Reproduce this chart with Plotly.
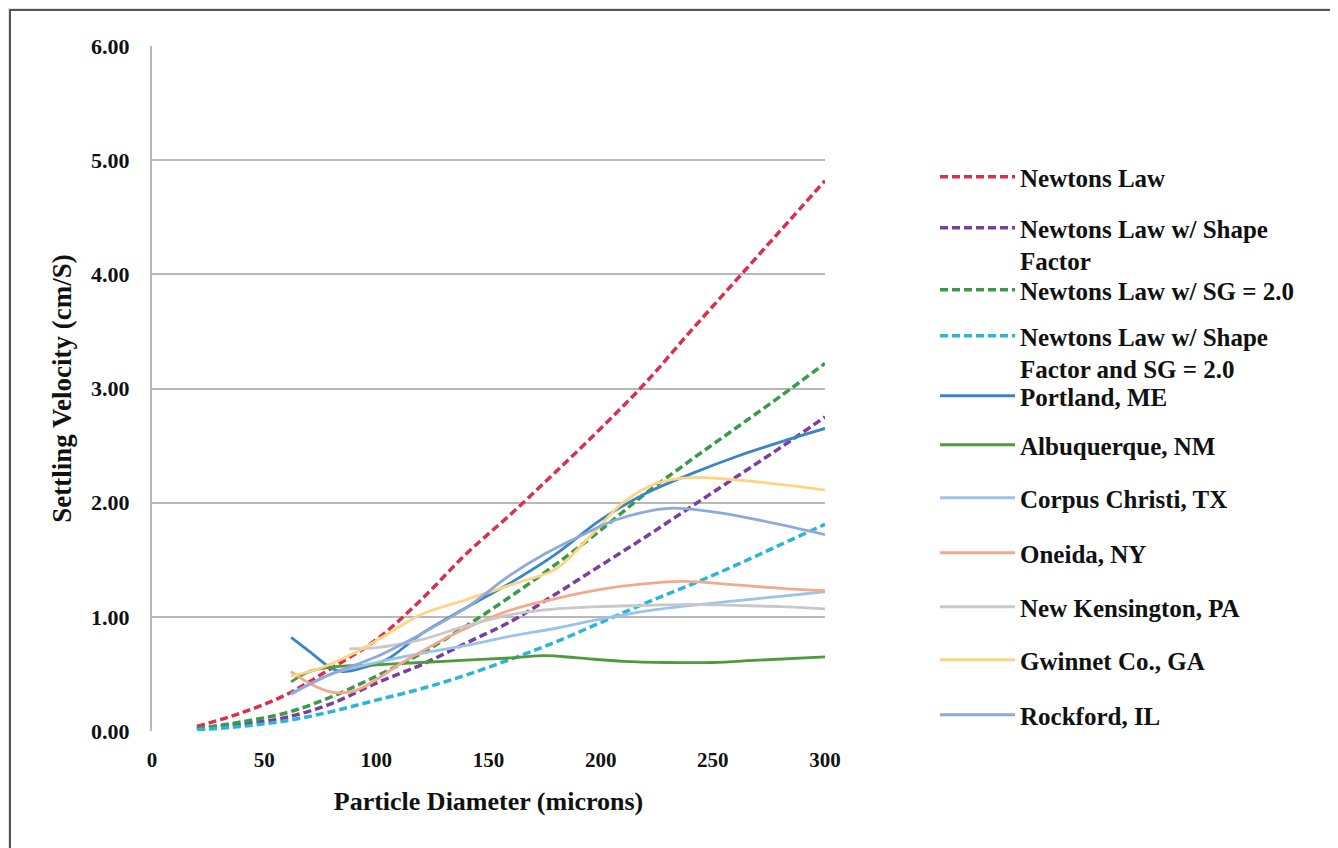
import plotly.graph_objects as go

# ---- data ----
x_model = [20, 40, 60, 80, 100, 120, 140, 160, 180, 200, 220, 240, 260, 280, 300]
newtons_law = [0.04, 0.16, 0.32, 0.55, 0.80, 1.15, 1.55, 1.90, 2.27, 2.65, 3.05, 3.50, 3.94, 4.38, 4.82]
newtons_shape = [0.02, 0.06, 0.12, 0.24, 0.42, 0.58, 0.77, 0.96, 1.20, 1.45, 1.70, 1.96, 2.22, 2.48, 2.75]
newtons_sg2 = [0.02, 0.08, 0.16, 0.30, 0.48, 0.68, 0.92, 1.18, 1.46, 1.76, 2.08, 2.37, 2.65, 2.93, 3.22]
newtons_shape_sg2 = [0.01, 0.04, 0.09, 0.17, 0.27, 0.37, 0.49, 0.63, 0.78, 0.95, 1.12, 1.28, 1.45, 1.63, 1.81]

portland_x = [62, 70, 80, 85, 95, 105, 120, 140, 160, 180, 200, 220, 240, 260, 280, 300]
portland_y = [0.82, 0.70, 0.55, 0.52, 0.56, 0.63, 0.85, 1.08, 1.30, 1.55, 1.85, 2.08, 2.25, 2.40, 2.53, 2.65]

albuquerque_x = [62, 70, 80, 100, 120, 140, 160, 175, 190, 210, 230, 250, 270, 300]
albuquerque_y = [0.43, 0.52, 0.56, 0.58, 0.60, 0.62, 0.64, 0.66, 0.64, 0.61, 0.60, 0.60, 0.62, 0.65]

corpus_x = [62, 80, 100, 120, 140, 160, 180, 200, 220, 240, 260, 280, 300]
corpus_y = [0.32, 0.50, 0.60, 0.68, 0.75, 0.83, 0.90, 0.98, 1.05, 1.10, 1.14, 1.18, 1.22]

oneida_x = [62, 70, 80, 90, 100, 110, 125, 140, 160, 180, 200, 220, 237, 260, 280, 300]
oneida_y = [0.52, 0.42, 0.34, 0.35, 0.45, 0.58, 0.75, 0.90, 1.06, 1.16, 1.24, 1.29, 1.31, 1.28, 1.25, 1.23]

kensington_x = [88, 100, 120, 140, 160, 180, 200, 220, 240, 260, 280, 300]
kensington_y = [0.72, 0.73, 0.80, 0.92, 1.02, 1.07, 1.09, 1.10, 1.11, 1.10, 1.09, 1.07]

gwinnet_x = [62, 75, 90, 105, 120, 140, 160, 180, 195, 210, 225, 240, 260, 280, 300]
gwinnet_y = [0.48, 0.55, 0.68, 0.85, 1.02, 1.15, 1.28, 1.42, 1.70, 2.00, 2.17, 2.22, 2.20, 2.16, 2.11]

rockford_x = [62, 80, 100, 120, 140, 160, 175, 190, 207, 230, 250, 270, 300]
rockford_y = [0.33, 0.50, 0.65, 0.85, 1.08, 1.37, 1.55, 1.70, 1.85, 1.95, 1.92, 1.85, 1.72]

x_ticks = [0, 50, 100, 150, 200, 250, 300]
y_ticks = [0, 1, 2, 3, 4, 5, 6]
y_tick_labels = ["0.00", "1.00", "2.00", "3.00", "4.00", "5.00", "6.00"]

series_names = [
    "Newtons Law",
    "Newtons Law w/ Shape<br>Factor",
    "Newtons Law w/ SG = 2.0",
    "Newtons Law w/ Shape<br>Factor and SG = 2.0",
    "Portland, ME",
    "Albuquerque, NM",
    "Corpus Christi, TX",
    "Oneida, NY",
    "New Kensington, PA",
    "Gwinnet Co., GA",
    "Rockford, IL",
]

# ---- figure ----
FONT = "Liberation Serif"
OFF = 8  # page body offset in the browser
W, H = 1338, 848
PLOT_L, PLOT_R, PLOT_T, PLOT_B = 152 - OFF, 825 - OFF, 46 - OFF, 731 - OFF
pw = PLOT_R - PLOT_L
ph = PLOT_B - PLOT_T

fig = go.Figure()

series = [
    (x_model, newtons_law, "#D8314F", True),
    (x_model, newtons_shape, "#7B3D9E", True),
    (x_model, newtons_sg2, "#3A9A48", True),
    (x_model, newtons_shape_sg2, "#2BB5D8", True),
    (portland_x, portland_y, "#3A85C4", False),
    (albuquerque_x, albuquerque_y, "#4E9A3C", False),
    (corpus_x, corpus_y, "#9CC3E8", False),
    (oneida_x, oneida_y, "#F4A98A", False),
    (kensington_x, kensington_y, "#C8C8C8", False),
    (gwinnet_x, gwinnet_y, "#FFD480", False),
    (rockford_x, rockford_y, "#8EA9DB", False),
]

# legend entry vertical centres (page pixels)
legend_centers_px = [177, 244, 290, 352, 396, 445, 498, 553, 607, 660, 715]

layout_legends = {}
for i, ((xs, ys, color, dashed), name) in enumerate(zip(series, series_names)):
    key = "legend" if i == 0 else f"legend{i+1}"
    fig.add_trace(go.Scatter(
        x=xs, y=ys, name="<b>" + name.replace("<br>", "</b><br><b>") + "</b>",
        mode="lines",
        line=dict(color=color, width=3.5 if dashed else 2.8,
                  dash="8px,4px" if dashed else "solid",
                  shape="spline", smoothing=1.0),
        legend=key,
    ))
    layout_legends[key] = dict(
        x=(935 - OFF - PLOT_L) / pw, xanchor="left",
        y=(PLOT_B - (legend_centers_px[i] - OFF)) / ph, yanchor="middle",
        font=dict(family=FONT, size=25, color="#111111"),
        itemwidth=75, valign="top",
        bgcolor="rgba(0,0,0,0)", borderwidth=0,
        tracegroupgap=0,
    )

# page frame
fig.add_shape(type="rect", xref="paper", yref="paper",
              x0=(10 - OFF - PLOT_L) / pw, x1=(1350 - OFF - PLOT_L) / pw,
              y0=(PLOT_B - 860) / ph, y1=(PLOT_B - (10 - OFF)) / ph,
              fillcolor="white", line=dict(color="#555555", width=2),
              layer="below")

fig.update_layout(
    width=W, height=H,
    margin=dict(l=PLOT_L, r=W - PLOT_R, t=PLOT_T, b=H - PLOT_B),
    paper_bgcolor="#E4E4E4",
    plot_bgcolor="rgba(0,0,0,0)",
    font=dict(family=FONT, color="#111111"),
    showlegend=True,
    **layout_legends,
)

fig.update_xaxes(
    range=[0, 300], tickvals=x_ticks, ticktext=[f"<b>{t}</b>" for t in x_ticks],
    tickfont=dict(family=FONT, size=21, color="#111111"),
    showgrid=False, zeroline=False,
    showline=False, ticks="", ticklabelstandoff=14,
    title=dict(text="<b>Particle Diameter (microns)</b>",
               font=dict(family=FONT, size=26, color="#111111"), standoff=20),
)
fig.update_yaxes(
    range=[0, 6], tickvals=y_ticks, ticktext=[f"<b>{t}</b>" for t in y_tick_labels],
    tickfont=dict(family=FONT, size=22, color="#111111"),
    showgrid=True, gridcolor="#B8B8B8", gridwidth=2,
    zeroline=False, showline=True, linecolor="#B8B8B8", linewidth=2,
    ticks="", ticklabelstandoff=16,
    title=dict(text="<b>Settling Velocity (cm/S)</b>",
               font=dict(family=FONT, size=27, color="#111111"), standoff=12),
)

fig.write_html("out.html")
